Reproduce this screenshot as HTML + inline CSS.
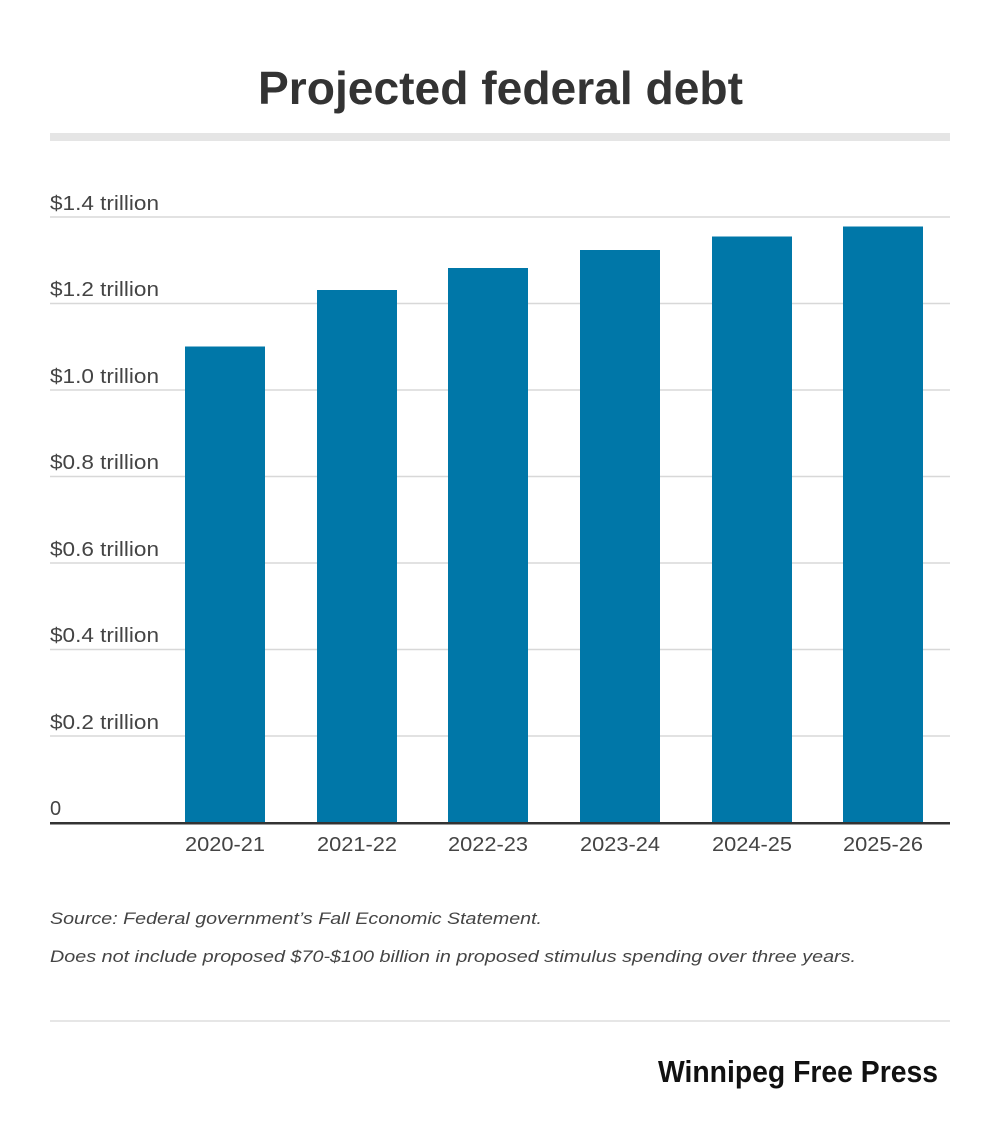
<!DOCTYPE html>
<html><head><meta charset="utf-8"><style>
html,body{margin:0;padding:0;background:#fff;}
svg{display:block;}
text{font-family:"Liberation Sans",sans-serif;}
</style></head><body>
<svg width="1000" height="1126" viewBox="0 0 1000 1126">
<text x="258" y="104" font-size="46" font-weight="bold" fill="#333" textLength="485" lengthAdjust="spacingAndGlyphs">Projected federal debt</text>
<rect x="50" y="133" width="900" height="8" fill="#e5e5e5"/>
<g stroke="#d8d8d8" stroke-width="1.5">
<line x1="50" x2="950" y1="217" y2="217"/>
<line x1="50" x2="950" y1="303.5" y2="303.5"/>
<line x1="50" x2="950" y1="390" y2="390"/>
<line x1="50" x2="950" y1="476.5" y2="476.5"/>
<line x1="50" x2="950" y1="563" y2="563"/>
<line x1="50" x2="950" y1="649.5" y2="649.5"/>
<line x1="50" x2="950" y1="736" y2="736"/>
</g>
<g font-size="20" fill="#444">
<text x="50" y="210" textLength="109" lengthAdjust="spacingAndGlyphs">$1.4 trillion</text>
<text x="50" y="296" textLength="109" lengthAdjust="spacingAndGlyphs">$1.2 trillion</text>
<text x="50" y="383" textLength="109" lengthAdjust="spacingAndGlyphs">$1.0 trillion</text>
<text x="50" y="469" textLength="109" lengthAdjust="spacingAndGlyphs">$0.8 trillion</text>
<text x="50" y="556" textLength="109" lengthAdjust="spacingAndGlyphs">$0.6 trillion</text>
<text x="50" y="642" textLength="109" lengthAdjust="spacingAndGlyphs">$0.4 trillion</text>
<text x="50" y="729" textLength="109" lengthAdjust="spacingAndGlyphs">$0.2 trillion</text>
<text x="50" y="815">0</text>
</g>
<g fill="#0077a8">
<rect x="185" y="346.5" width="80" height="476.5"/>
<rect x="317" y="290" width="80" height="533"/>
<rect x="448" y="268" width="80" height="555"/>
<rect x="580" y="250" width="80" height="573"/>
<rect x="712" y="236.5" width="80" height="586.5"/>
<rect x="843" y="226.5" width="80" height="596.5"/>
</g>
<rect x="50" y="822" width="900" height="2.5" fill="#333"/>
<g font-size="20" fill="#444">
<text x="185" y="851" textLength="80" lengthAdjust="spacingAndGlyphs">2020-21</text>
<text x="317" y="851" textLength="80" lengthAdjust="spacingAndGlyphs">2021-22</text>
<text x="448" y="851" textLength="80" lengthAdjust="spacingAndGlyphs">2022-23</text>
<text x="580" y="851" textLength="80" lengthAdjust="spacingAndGlyphs">2023-24</text>
<text x="712" y="851" textLength="80" lengthAdjust="spacingAndGlyphs">2024-25</text>
<text x="843" y="851" textLength="80" lengthAdjust="spacingAndGlyphs">2025-26</text>
</g>
<g font-size="17" fill="#444" font-style="italic">
<text x="50" y="924" textLength="492" lengthAdjust="spacingAndGlyphs">Source:  Federal government’s Fall Economic Statement.</text>
<text x="50" y="962" textLength="806" lengthAdjust="spacingAndGlyphs">Does not include proposed $70-$100 billion in proposed stimulus spending over three years.</text>
</g>
<line x1="50" x2="950" y1="1021" y2="1021" stroke="#ddd" stroke-width="1.5"/>
<text x="658" y="1082" font-size="31" font-weight="bold" fill="#111" textLength="280" lengthAdjust="spacingAndGlyphs">Winnipeg Free Press</text>
</svg>
</body></html>
